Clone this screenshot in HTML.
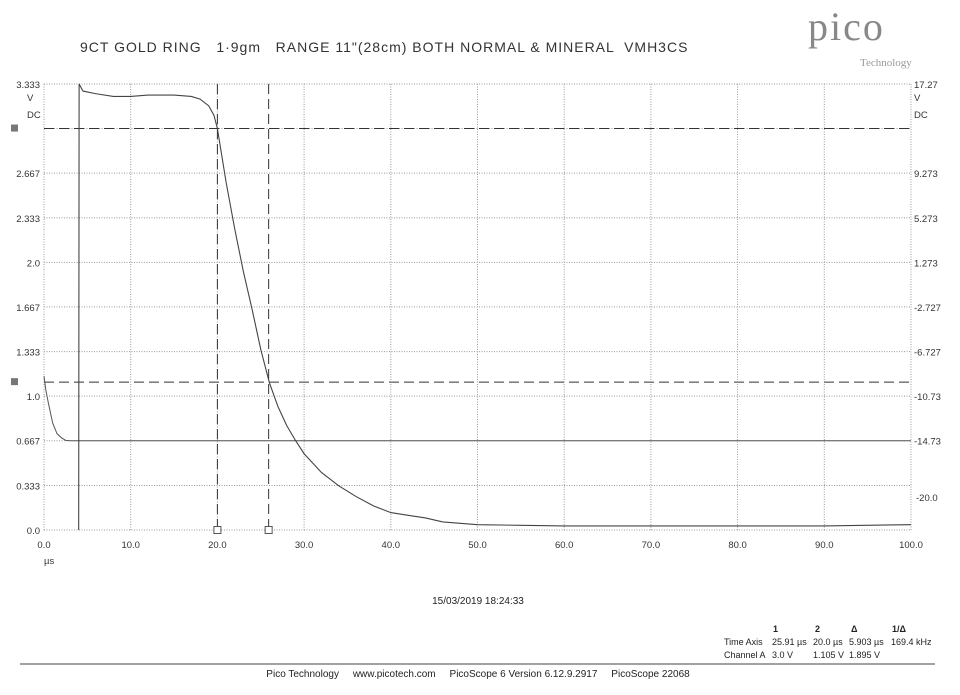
<!DOCTYPE html>
<html><head><meta charset="utf-8"><style>
body{margin:0;background:#fff;width:960px;height:690px;overflow:hidden;font-family:"Liberation Sans",sans-serif;}
svg text{font-family:"Liberation Sans",sans-serif;white-space:pre;}
</style></head><body>
<svg id="chart" width="960" height="690">
<text x="80" y="52" font-size="14" fill="#333" letter-spacing="1">9CT GOLD RING   1·9gm   RANGE 11"(28cm) BOTH NORMAL &amp; MINERAL  VMH3CS</text>
<g>
<text x="808" y="40" font-size="40" fill="#888" style="font-family:'Liberation Serif',serif" letter-spacing="2">pico</text>
<text x="860" y="66" font-size="11" fill="#999" style="font-family:'Liberation Serif',serif">Technology</text>
</g>
<g id="grid"></g>
<g id="marks"></g>
<text x="478" y="604" font-size="10" text-anchor="middle" fill="#222">15/03/2019 18:24:33</text>
<g font-size="9" fill="#222">
<text x="773" y="632" font-weight="bold">1</text><text x="815" y="632" font-weight="bold">2</text><text x="851" y="632" font-weight="bold">Δ</text><text x="892" y="632" font-weight="bold">1/Δ</text>
<text x="724" y="645">Time Axis</text><text x="772" y="645">25.91 µs</text><text x="813" y="645">20.0 µs</text><text x="849" y="645">5.903 µs</text><text x="891" y="645">169.4 kHz</text>
<text x="724" y="658">Channel A</text><text x="772" y="658">3.0 V</text><text x="813" y="658">1.105 V</text><text x="849" y="658">1.895 V</text>
</g>
<line x1="20" y1="664" x2="935" y2="664" stroke="#444" stroke-width="1"/>
<text x="478" y="677" font-size="10" text-anchor="middle" fill="#222">Pico Technology     www.picotech.com     PicoScope 6 Version 6.12.9.2917     PicoScope 22068</text>
</svg>
<script>
const xTicks=[0,10,20,30,40,50,60,70,80,90,100];
const xTickLabels=["0.0","10.0","20.0","30.0","40.0","50.0","60.0","70.0","80.0","90.0","100.0"];
const yTicks=[0,0.333,0.667,1.0,1.333,1.667,2.0,2.333,2.667,3.0,3.333];
const yTickLabels=["0.0","0.333","0.667","1.0","1.333","1.667","2.0","2.333","2.667","","3.333"];
const rightLabels=["","","-14.73","-10.73","-6.727","-2.727","1.273","5.273","9.273","","17.27"];
const traceT=[4.0,4.05,4.5,6,8,10,12,15,17,18,19,19.6,20,21,22,23,24,25,26,27,28,29,30,32,34,36,38,40,42,44,46,48,50,55,60,70,80,90,100];
const traceV=[0,3.333,3.28,3.26,3.24,3.24,3.25,3.25,3.24,3.22,3.17,3.1,3.0,2.6,2.25,1.93,1.65,1.35,1.1,0.92,0.78,0.67,0.57,0.43,0.33,0.25,0.18,0.13,0.11,0.09,0.06,0.05,0.04,0.035,0.03,0.03,0.03,0.03,0.04];
const refT=[0,0.2,0.5,1,1.5,2,2.5,3,100];
const refV=[1.15,1.05,0.95,0.8,0.72,0.69,0.67,0.667,0.667];
const cursorTimes=[20.0,25.91];
const cursorVolts=[3.0,1.105];
const X0=44,X1=911,Y0=530,Y1=84;
const xs=t=>X0+(t/100)*(X1-X0);
const ys=v=>Y0-(v/3.333)*(Y0-Y1);
const NS="http://www.w3.org/2000/svg";
function mk(tag,attrs,parent){const e=document.createElementNS(NS,tag);for(const k in attrs)e.setAttribute(k,attrs[k]);parent.appendChild(e);return e;}
const g=document.getElementById('grid'),m=document.getElementById('marks');
xTicks.forEach((t,i)=>{
 const l=mk('line',{x1:xs(t),x2:xs(t),y1:Y1,y2:Y0,stroke:'#999','stroke-dasharray':'1,1.5','stroke-width':1},g);
 
 
 const tx=mk('text',{x:xs(t),y:548,'font-size':9.5,'text-anchor':'middle',fill:'#333'},g);tx.textContent=xTickLabels[i];
 
 
});
yTicks.forEach((v,i)=>{
 const l=mk('line',{x1:X0,x2:X1,y1:ys(v),y2:ys(v),stroke:'#999','stroke-dasharray':'1,1.5','stroke-width':1},g);
 
 
 if(yTickLabels[i]){const tx=mk('text',{x:40,y:ys(v)+4,'font-size':9.5,'text-anchor':'end',fill:'#333'},g);tx.textContent=yTickLabels[i];
 
 }
 if(rightLabels[i]){const tx=mk('text',{x:914,y:ys(v)+4,'font-size':9.5,fill:'#333'},g);tx.textContent=rightLabels[i];
 
 }
});
[["V",27,101],["DC",27,118],["µs",44,564],["V",914,101],["DC",914,118],["-20.0",916,501]].forEach(a=>{const tx=mk('text',{x:a[1],y:a[2],'font-size':9.5,fill:'#333'},g);tx.textContent=a[0];
 
 });
cursorVolts.forEach(v=>{
 const l=mk('line',{x1:X0,x2:X1,y1:ys(v),y2:ys(v),stroke:'#333','stroke-dasharray':'10,5','stroke-width':1},m);
 
 
 const r=mk('rect',{x:11,y:ys(v)-4,width:7,height:7,fill:'#777'},m);
 
 
});
cursorTimes.forEach(t=>{
 const l=mk('line',{x1:xs(t),x2:xs(t),y1:Y1,y2:Y0,stroke:'#333','stroke-dasharray':'10,5','stroke-width':1},m);
 
 
 const r=mk('rect',{x:xs(t)-3.5,y:Y0-3.5,width:7,height:7,fill:'#fff',stroke:'#555'},m);
 
 
});
const p1=mk('polyline',{points:refT.map((t,i)=>xs(t)+','+ys(refV[i])).join(' '),fill:'none',stroke:'#555','stroke-width':1},m);


const p2=mk('polyline',{points:traceT.map((t,i)=>xs(t)+','+ys(traceV[i])).join(' '),fill:'none',stroke:'#444','stroke-width':1.1},m);


</script>
</body></html>
